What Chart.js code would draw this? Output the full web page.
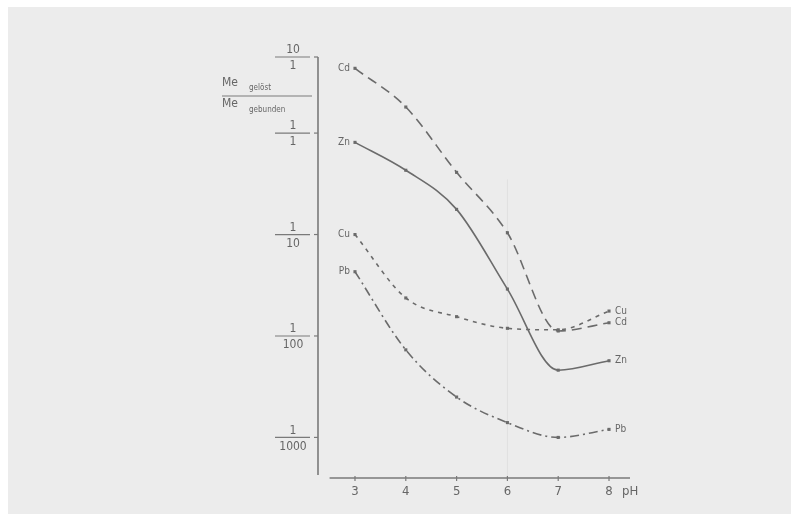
<!DOCTYPE html>
<html><head><meta charset="utf-8">
<script src="https://cdn.jsdelivr.net/npm/chart.js@4.4.0/dist/chart.umd.min.js"></script>
<style>html,body{margin:0;padding:0;background:#fff;}canvas{display:block;}</style>
</head><body>
<canvas id="c" width="791" height="514"></canvas>
<script>
// ---- data ----
const pH = [3, 4, 5, 6, 7, 8];
const cd = [7.1, 2.2, 0.41, 0.104, 0.0112, 0.0135];
const zn = [0.81, 0.43, 0.177, 0.029, 0.0046, 0.0057];
const cu = [0.1, 0.0237, 0.0155, 0.0119, 0.0115, 0.0176];
const pb = [0.043, 0.0073, 0.0025, 0.0014, 0.001, 0.0012];
const seriesNames = ['Cd', 'Zn', 'Cu', 'Pb'];
const xTicks = [3, 4, 5, 6, 7, 8];
const yTickValues = [10, 1, 0.1, 0.01, 0.001];
const yTickNum = ['10', '1', '1', '1', '1'];
const yTickDen = ['1', '1', '10', '100', '1000'];

// axis position of a ratio (the hand-drawn axis compresses the top decade)
function pos(v) { const l = Math.log10(v); return l > 0 ? l * 0.75 : l; }

const ink = '#6b6b6b';
const txt = '#666';

function ds(name, vals, dash) {
  return {
    label: name,
    data: pH.map((x, i) => ({ x: x, y: pos(vals[i]) })),
    borderColor: ink, backgroundColor: ink, borderWidth: 1.6,
    borderDash: dash, cubicInterpolationMode: 'monotone', pointRadius: 2.2, pointStyle: 'rect',
    pointBorderWidth: 0, fill: false
  };
}

const deco = {
  id: 'deco',
  beforeDraw(chart) {
    const c = chart.ctx;
    c.save();
    c.fillStyle = '#fff'; c.fillRect(0, 0, chart.width, chart.height);
    c.fillStyle = '#ececec'; c.fillRect(8, 7, chart.width - 8, chart.height - 7);
    const xs = chart.scales.x, ys = chart.scales.y;
    // faint scan line at pH 6
    c.strokeStyle = 'rgba(0,0,0,0.05)'; c.lineWidth = 1;
    c.beginPath(); c.moveTo(xs.getPixelForValue(6), ys.getPixelForValue(pos(0.35))); c.lineTo(xs.getPixelForValue(6), ys.getPixelForValue(pos(0.0004))); c.stroke();
    c.restore();
  },
  afterDraw(chart) {
    const c = chart.ctx, a = chart.chartArea;
    const xs = chart.scales.x, ys = chart.scales.y;
    c.save();
    c.strokeStyle = '#7a7a7a'; c.lineWidth = 1.6;
    // y axis
    c.beginPath(); c.moveTo(a.left, a.top); c.lineTo(a.left, a.bottom - 3); c.stroke();
    // x axis
    c.beginPath(); c.moveTo(xs.getPixelForValue(2.5), a.bottom); c.lineTo(a.right, a.bottom); c.stroke();
    c.fillStyle = txt; c.textAlign = 'center'; c.textBaseline = 'middle';
    c.font = '13px "Liberation Sans Narrow", "DejaVu Sans Condensed", sans-serif';
    xTicks.forEach(t => {
      const px = xs.getPixelForValue(t);
      c.lineWidth = 1.2;
      c.beginPath(); c.moveTo(px, a.bottom - 2); c.lineTo(px, a.bottom + 3); c.stroke();
      c.fillText(String(t), px, a.bottom + 14);
    });
    c.textAlign = 'left';
    c.fillText('pH', xs.getPixelForValue(8) + 13, a.bottom + 14);
    // y ticks as fractions
    c.textAlign = 'center';
    c.font = '12px "Liberation Sans Narrow", "DejaVu Sans Condensed", sans-serif';
    yTickValues.forEach((v, i) => {
      const py = ys.getPixelForValue(pos(v));
      c.lineWidth = 1.2;
      c.beginPath(); c.moveTo(a.left - 43, py); c.lineTo(a.left - 8, py); c.stroke();
      c.beginPath(); c.moveTo(a.left - 4, py); c.lineTo(a.left, py); c.stroke();
      c.fillText(yTickNum[i], a.left - 25, py - 7);
      c.fillText(yTickDen[i], a.left - 25, py + 9);
    });
    // axis title: Me_gelöst / Me_gebunden
    c.textAlign = 'left';
    c.font = '12px "Liberation Sans Narrow", "DejaVu Sans Condensed", sans-serif';
    c.fillText('Me', 222, 83);
    c.fillText('Me', 222, 104);
    c.font = '8px "Liberation Sans Narrow", "DejaVu Sans Condensed", sans-serif';
    c.fillText('gelöst', 249, 88);
    c.fillText('gebunden', 249, 110);
    c.lineWidth = 1.2;
    c.beginPath(); c.moveTo(222, 96); c.lineTo(312, 96); c.stroke();
    // series labels
    c.font = '10px "Liberation Sans Narrow", "DejaVu Sans Condensed", sans-serif';
    chart.data.datasets.forEach((d, i) => {
      const meta = chart.getDatasetMeta(i);
      const first = meta.data[0], last = meta.data[meta.data.length - 1];
      c.textAlign = 'right';
      c.fillText(d.label, first.x - 5, first.y);
      c.textAlign = 'left';
      c.fillText(d.label, last.x + 6, last.y);
    });
    c.restore();
  }
};

new Chart(document.getElementById('c'), {
  type: 'line',
  data: {
    datasets: [
      ds(seriesNames[0], cd, [10, 6]),
      ds(seriesNames[1], zn, []),
      ds(seriesNames[2], cu, [4, 5]),
      ds(seriesNames[3], pb, [9, 4, 2, 4])
    ]
  },
  options: {
    responsive: false, animation: false,
    layout: { padding: { left: 318, right: 161, top: 57, bottom: 36 } },
    plugins: { legend: { display: false }, tooltip: { enabled: false } },
    scales: {
      x: { type: 'linear', display: false, min: 2.272, max: 8.413 },
      y: { type: 'linear', display: false, min: -3.4, max: 0.75 }
    }
  },
  plugins: [deco]
});
</script>
</body></html>
